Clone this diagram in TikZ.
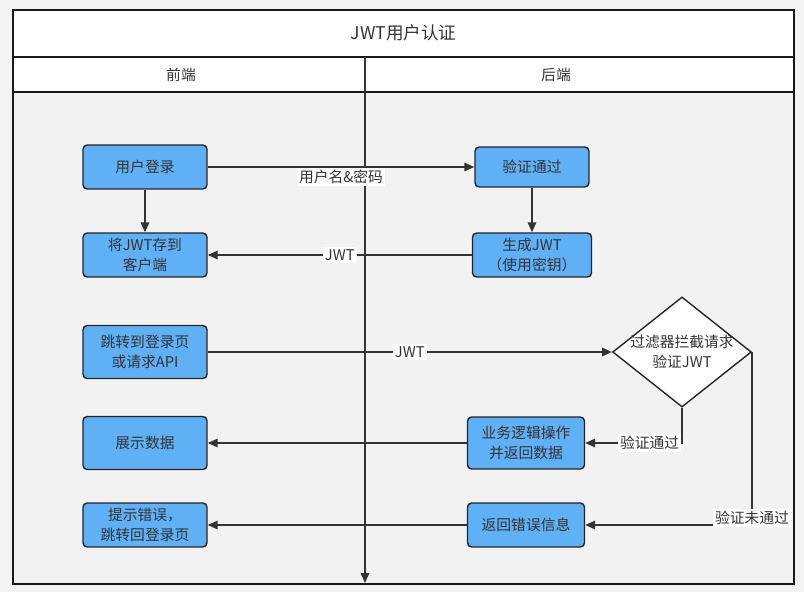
\documentclass[tikz,border=0pt]{standalone}
\usepackage{fontspec}
\setmainfont{Noto Sans CJK SC}
\usetikzlibrary{arrows.meta}
\usetikzlibrary{shapes.geometric}
\definecolor{pagegray}{RGB}{243,243,243}
\definecolor{lanegray}{RGB}{242,242,242}
\definecolor{boxblue}{RGB}{96,176,245}
\definecolor{inkgray}{RGB}{51,51,51}
\tikzset{
  stepbox/.style={rectangle,rounded corners=3pt,draw=black!85,line width=1pt,fill=boxblue,text=inkgray,align=center,inner sep=0pt,font=\fontsize{10.5}{14}\selectfont},
  checkbox/.style={diamond,draw=black!85,line width=1pt,fill=white,text=inkgray,align=center,inner sep=-1pt,shape aspect=1.26,font=\fontsize{10.5}{14}\selectfont},
  flow/.style={draw=inkgray,line width=1.1pt,-{Triangle[length=7pt,width=6pt]}},
  flowlabel/.style={fill=white,text=inkgray,inner sep=1.5pt,font=\fontsize{10.5}{13}\selectfont},
  frame/.style={draw=black!90,line width=1.1pt}
}

\begin{document}
\begin{tikzpicture}[x=0.025cm,y=-0.025cm]
\useasboundingbox (0,0) rectangle (804,592);
\fill[pagegray] (0,0) rectangle (804,592);
\fill[lanegray] (13,92) rectangle (794,584);
\fill[white] (13,10) rectangle (794,92);
\draw[frame] (13,10) rectangle (794,584);
\draw[frame] (13,57) -- (794,57);
\draw[frame] (13,92) -- (794,92);
\node[text=inkgray,font=\fontsize{12.5}{15}\selectfont] (title) at (403.5,33) {JWT用户认证};
\node[text=inkgray,font=\fontsize{10.5}{13}\selectfont] (front) at (181,75) {前端};
\node[text=inkgray,font=\fontsize{10.5}{13}\selectfont] (back) at (556,75) {后端};
\coordinate (laneTop) at (365,57);
\coordinate (laneEnd) at (365,583);
\draw[flow] (laneTop) -- (laneEnd);

\node[stepbox,minimum width=3.1cm,minimum height=1.1cm] (login) at (145,167) {用户登录};
\node[stepbox,minimum width=3.1cm,minimum height=1.1cm] (store) at (145,255) {将JWT存到\\客户端};
\node[stepbox,minimum width=2.85cm,minimum height=1cm] (verify) at (532,167) {验证通过};
\node[stepbox,minimum width=2.975cm,minimum height=1.1cm] (token) at (532,255) {生成JWT\\（使用密钥）};
\node[stepbox,minimum width=3.1cm,minimum height=1.325cm] (jump) at (145,352) {跳转到登录页\\或请求API};
\node[checkbox] (filter) at (682,352) {过滤器拦截请求\\验证JWT};
\node[stepbox,minimum width=2.925cm,minimum height=1.3cm] (logic) at (526,443) {业务逻辑操作\\并返回数据};
\node[stepbox,minimum width=3.1cm,minimum height=1.325cm] (show) at (145,443) {展示数据};
\node[stepbox,minimum width=3.1cm,minimum height=1.1cm] (hint) at (145,525) {提示错误，\\跳转回登录页};
\node[stepbox,minimum width=2.925cm,minimum height=1.1cm] (fail) at (526,525) {返回错误信息};

\draw[flow] (login) -- node[flowlabel,anchor=north] {用户名\&密码} (verify);
\draw[flow] (login) -- (store);
\draw[flow] (verify) -- (token);
\draw[flow] (token) -- node[flowlabel] {JWT} (store);
\draw[flow] (jump) -- node[flowlabel] {JWT} (filter);
\draw[flow] (filter.south) |- node[flowlabel,pos=0.5,anchor=east] {验证通过} (logic);
\draw[flow] (filter.east) |- node[flowlabel,pos=0.5,yshift=5pt] {验证未通过} (fail);
\draw[flow] (logic) -- (show);
\draw[flow] (fail) -- (hint);
\end{tikzpicture}
\end{document}
